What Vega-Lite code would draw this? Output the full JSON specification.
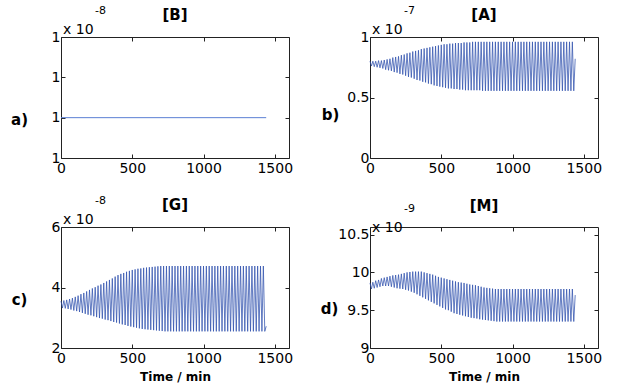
{
  "$schema": "https://vega.github.io/schema/vega-lite/v6.json",
  "padding": {"left": 10, "top": 4, "right": 5, "bottom": 0},
  "background": "white",
  "bounds": "flush",
  "columns": 2,
  "spacing": {"row": 69, "column": 81},
  "datasets": {
    "flat": [{"t": 0, "B": 1}, {"t": 1440, "B": 1}],
    "osc": [
      {"t":0,"A":0.80,"G":3.55,"M":9.86},{"t":10,"A":0.76,"G":3.32,"M":9.78},
      {"t":20,"A":0.80,"G":3.57,"M":9.87},{"t":30,"A":0.755,"G":3.31,"M":9.79},
      {"t":40,"A":0.80,"G":3.59,"M":9.89},{"t":50,"A":0.75,"G":3.29,"M":9.80},
      {"t":60,"A":0.805,"G":3.62,"M":9.90},{"t":70,"A":0.745,"G":3.27,"M":9.81},
      {"t":80,"A":0.805,"G":3.65,"M":9.92},{"t":90,"A":0.74,"G":3.24,"M":9.82},
      {"t":100,"A":0.81,"G":3.69,"M":9.93},{"t":110,"A":0.73,"G":3.22,"M":9.82},
      {"t":120,"A":0.815,"G":3.73,"M":9.94},{"t":130,"A":0.725,"G":3.19,"M":9.82},
      {"t":140,"A":0.82,"G":3.78,"M":9.95},{"t":150,"A":0.72,"G":3.16,"M":9.81},
      {"t":160,"A":0.83,"G":3.82,"M":9.96},{"t":170,"A":0.71,"G":3.13,"M":9.80},
      {"t":180,"A":0.835,"G":3.87,"M":9.965},{"t":190,"A":0.705,"G":3.10,"M":9.79},
      {"t":200,"A":0.84,"G":3.92,"M":9.97},{"t":210,"A":0.695,"G":3.08,"M":9.785},
      {"t":220,"A":0.85,"G":3.97,"M":9.98},{"t":230,"A":0.69,"G":3.05,"M":9.78},
      {"t":240,"A":0.855,"G":4.01,"M":9.99},{"t":250,"A":0.68,"G":3.02,"M":9.77},
      {"t":260,"A":0.865,"G":4.06,"M":10.0},{"t":270,"A":0.67,"G":2.99,"M":9.76},
      {"t":280,"A":0.87,"G":4.10,"M":10.005},{"t":290,"A":0.665,"G":2.97,"M":9.745},
      {"t":300,"A":0.88,"G":4.15,"M":10.01},{"t":310,"A":0.655,"G":2.94,"M":9.73},
      {"t":320,"A":0.885,"G":4.20,"M":10.01},{"t":330,"A":0.645,"G":2.92,"M":9.71},
      {"t":340,"A":0.89,"G":4.25,"M":10.01},{"t":350,"A":0.64,"G":2.89,"M":9.69},
      {"t":360,"A":0.90,"G":4.30,"M":10.01},{"t":370,"A":0.63,"G":2.86,"M":9.67},
      {"t":380,"A":0.905,"G":4.36,"M":10.0},{"t":390,"A":0.625,"G":2.84,"M":9.65},
      {"t":400,"A":0.91,"G":4.41,"M":9.99},{"t":410,"A":0.615,"G":2.81,"M":9.63},
      {"t":420,"A":0.915,"G":4.45,"M":9.98},{"t":430,"A":0.61,"G":2.78,"M":9.61},
      {"t":440,"A":0.92,"G":4.48,"M":9.97},{"t":450,"A":0.60,"G":2.76,"M":9.59},
      {"t":460,"A":0.925,"G":4.52,"M":9.955},{"t":470,"A":0.595,"G":2.73,"M":9.57},
      {"t":480,"A":0.93,"G":4.55,"M":9.94},{"t":490,"A":0.59,"G":2.71,"M":9.55},
      {"t":500,"A":0.935,"G":4.58,"M":9.93},{"t":510,"A":0.585,"G":2.69,"M":9.53},
      {"t":520,"A":0.94,"G":4.60,"M":9.92},{"t":530,"A":0.58,"G":2.67,"M":9.51},
      {"t":540,"A":0.94,"G":4.62,"M":9.91},{"t":550,"A":0.575,"G":2.65,"M":9.50},
      {"t":560,"A":0.945,"G":4.63,"M":9.90},{"t":570,"A":0.575,"G":2.63,"M":9.48},
      {"t":580,"A":0.945,"G":4.65,"M":9.89},{"t":590,"A":0.57,"G":2.62,"M":9.46},
      {"t":600,"A":0.95,"G":4.66,"M":9.88},{"t":610,"A":0.57,"G":2.61,"M":9.45},
      {"t":620,"A":0.95,"G":4.67,"M":9.87},{"t":630,"A":0.565,"G":2.60,"M":9.44},
      {"t":640,"A":0.95,"G":4.68,"M":9.865},{"t":650,"A":0.565,"G":2.59,"M":9.43},
      {"t":660,"A":0.955,"G":4.69,"M":9.86},{"t":670,"A":0.56,"G":2.58,"M":9.42},
      {"t":680,"A":0.955,"G":4.70,"M":9.85},{"t":690,"A":0.56,"G":2.57,"M":9.41},
      {"t":700,"A":0.955,"G":4.71,"M":9.84},{"t":710,"A":0.56,"G":2.56,"M":9.40},
      {"t":720,"A":0.96,"G":4.71,"M":9.835},{"t":730,"A":0.56,"G":2.55,"M":9.395},
      {"t":740,"A":0.96,"G":4.71,"M":9.83},{"t":750,"A":0.56,"G":2.55,"M":9.39},
      {"t":760,"A":0.96,"G":4.71,"M":9.82},{"t":770,"A":0.56,"G":2.55,"M":9.38},
      {"t":780,"A":0.96,"G":4.71,"M":9.81},{"t":790,"A":0.555,"G":2.55,"M":9.375},
      {"t":800,"A":0.96,"G":4.71,"M":9.80},{"t":810,"A":0.555,"G":2.55,"M":9.37},
      {"t":820,"A":0.96,"G":4.71,"M":9.795},{"t":830,"A":0.555,"G":2.55,"M":9.365},
      {"t":840,"A":0.96,"G":4.71,"M":9.79},{"t":850,"A":0.555,"G":2.55,"M":9.36},
      {"t":860,"A":0.96,"G":4.71,"M":9.785},{"t":870,"A":0.555,"G":2.55,"M":9.355},
      {"t":880,"A":0.96,"G":4.71,"M":9.78},{"t":890,"A":0.555,"G":2.55,"M":9.35},
      {"t":900,"A":0.96,"G":4.71,"M":9.78},{"t":910,"A":0.555,"G":2.55,"M":9.35},
      {"t":920,"A":0.96,"G":4.71,"M":9.78},{"t":930,"A":0.555,"G":2.55,"M":9.35},
      {"t":940,"A":0.96,"G":4.71,"M":9.78},{"t":950,"A":0.555,"G":2.55,"M":9.35},
      {"t":960,"A":0.96,"G":4.71,"M":9.78},{"t":970,"A":0.555,"G":2.55,"M":9.35},
      {"t":980,"A":0.96,"G":4.71,"M":9.78},{"t":990,"A":0.555,"G":2.55,"M":9.35},
      {"t":1000,"A":0.96,"G":4.71,"M":9.78},{"t":1010,"A":0.555,"G":2.55,"M":9.35},
      {"t":1020,"A":0.96,"G":4.71,"M":9.78},{"t":1030,"A":0.555,"G":2.55,"M":9.35},
      {"t":1040,"A":0.96,"G":4.71,"M":9.78},{"t":1050,"A":0.555,"G":2.55,"M":9.35},
      {"t":1060,"A":0.96,"G":4.71,"M":9.78},{"t":1070,"A":0.555,"G":2.55,"M":9.35},
      {"t":1080,"A":0.96,"G":4.71,"M":9.78},{"t":1090,"A":0.555,"G":2.55,"M":9.35},
      {"t":1100,"A":0.96,"G":4.71,"M":9.78},{"t":1110,"A":0.555,"G":2.55,"M":9.35},
      {"t":1120,"A":0.96,"G":4.71,"M":9.78},{"t":1130,"A":0.555,"G":2.55,"M":9.35},
      {"t":1140,"A":0.96,"G":4.71,"M":9.78},{"t":1150,"A":0.555,"G":2.55,"M":9.35},
      {"t":1160,"A":0.96,"G":4.71,"M":9.78},{"t":1170,"A":0.555,"G":2.55,"M":9.35},
      {"t":1180,"A":0.96,"G":4.71,"M":9.78},{"t":1190,"A":0.555,"G":2.55,"M":9.35},
      {"t":1200,"A":0.96,"G":4.71,"M":9.78},{"t":1210,"A":0.555,"G":2.55,"M":9.35},
      {"t":1220,"A":0.96,"G":4.71,"M":9.78},{"t":1230,"A":0.555,"G":2.55,"M":9.35},
      {"t":1240,"A":0.96,"G":4.71,"M":9.78},{"t":1250,"A":0.555,"G":2.55,"M":9.35},
      {"t":1260,"A":0.96,"G":4.71,"M":9.78},{"t":1270,"A":0.555,"G":2.55,"M":9.35},
      {"t":1280,"A":0.96,"G":4.71,"M":9.78},{"t":1290,"A":0.555,"G":2.55,"M":9.35},
      {"t":1300,"A":0.96,"G":4.71,"M":9.78},{"t":1310,"A":0.555,"G":2.55,"M":9.35},
      {"t":1320,"A":0.96,"G":4.71,"M":9.78},{"t":1330,"A":0.555,"G":2.55,"M":9.35},
      {"t":1340,"A":0.96,"G":4.71,"M":9.78},{"t":1350,"A":0.555,"G":2.55,"M":9.35},
      {"t":1360,"A":0.96,"G":4.71,"M":9.78},{"t":1370,"A":0.555,"G":2.55,"M":9.35},
      {"t":1380,"A":0.96,"G":4.71,"M":9.78},{"t":1390,"A":0.555,"G":2.55,"M":9.35},
      {"t":1400,"A":0.96,"G":4.71,"M":9.78},{"t":1410,"A":0.555,"G":2.55,"M":9.35},
      {"t":1420,"A":0.96,"G":4.71,"M":9.78},{"t":1430,"A":0.555,"G":2.55,"M":9.35},
      {"t":1440,"A":0.82,"G":2.72,"M":9.70}
    ]
  },
  "concat": [
    {
      "width": 228, "height": 121,
      "title": "[B]",
      "resolve": {"axis": {"x": "independent", "y": "independent"}},
      "layer": [
        {
          "data": {"name": "flat"},
          "mark": {"type": "line", "color": "#5b7fd4", "strokeWidth": 1},
          "encoding": {
            "x": {"field": "t", "type": "quantitative", "scale": {"domain": [0, 1500]},
                  "axis": {"values": [0, 500, 1000, 1500], "format": ".0f", "title": null}},
            "y": {"field": "B", "type": "quantitative", "scale": {"domain": [0.9998, 1.0004]},
                  "axis": {"values": [0.9998, 1, 1.0002, 1.0004], "format": ".0f",
                           "title": "a)", "titleX": -42, "titleY": 82}}
          }
        },
        {
          "data": {"name": "flat"},
          "mark": {"type": "line", "opacity": 0},
          "encoding": {
            "x": {"field": "t", "type": "quantitative",
                  "axis": {"orient": "top", "values": [0, 500, 1000, 1500], "labels": false, "title": null}},
            "y": {"field": "B", "type": "quantitative",
                  "axis": {"orient": "right", "values": [0.9998, 1, 1.0002, 1.0004], "labels": false, "title": null}}
          }
        },
        {
          "data": {"values": [{"s": "x 10"}]},
          "mark": {"type": "text", "align": "left", "baseline": "alphabetic", "dx": 2, "dy": -3, "fontSize": 14},
          "encoding": {
            "x": {"datum": 0, "type": "quantitative", "axis": null},
            "y": {"datum": 1.0004, "type": "quantitative", "axis": null},
            "text": {"field": "s"}
          }
        },
        {
          "data": {"values": [{"s": "-8"}]},
          "mark": {"type": "text", "align": "left", "baseline": "alphabetic", "dx": 34, "dy": -23, "fontSize": 11},
          "encoding": {
            "x": {"datum": 0, "type": "quantitative", "axis": null},
            "y": {"datum": 1.0004, "type": "quantitative", "axis": null},
            "text": {"field": "s"}
          }
        }
      ]
    },
    {
      "width": 228, "height": 121,
      "title": "[A]",
      "resolve": {"axis": {"x": "independent", "y": "independent"}},
      "layer": [
        {
          "data": {"name": "osc"},
          "mark": {"type": "line", "color": "#3051ad", "strokeWidth": 0.75},
          "encoding": {
            "x": {"field": "t", "type": "quantitative", "scale": {"domain": [0, 1500]},
                  "axis": {"values": [0, 500, 1000, 1500], "format": ".0f", "title": null}},
            "y": {"field": "A", "type": "quantitative", "scale": {"domain": [0, 1]},
                  "axis": {"values": [0, 0.5, 1], "format": "~g",
                           "title": "b)", "titleX": -40, "titleY": 77}}
          }
        },
        {
          "data": {"name": "osc"},
          "mark": {"type": "line", "opacity": 0},
          "encoding": {
            "x": {"field": "t", "type": "quantitative",
                  "axis": {"orient": "top", "values": [0, 500, 1000, 1500], "labels": false, "title": null}},
            "y": {"field": "A", "type": "quantitative",
                  "axis": {"orient": "right", "values": [0, 0.5, 1], "labels": false, "title": null}}
          }
        },
        {
          "data": {"values": [{"s": "x 10"}]},
          "mark": {"type": "text", "align": "left", "baseline": "alphabetic", "dx": 2, "dy": -3, "fontSize": 14},
          "encoding": {
            "x": {"datum": 0, "type": "quantitative", "axis": null},
            "y": {"datum": 1, "type": "quantitative", "axis": null},
            "text": {"field": "s"}
          }
        },
        {
          "data": {"values": [{"s": "-7"}]},
          "mark": {"type": "text", "align": "left", "baseline": "alphabetic", "dx": 34, "dy": -23, "fontSize": 11},
          "encoding": {
            "x": {"datum": 0, "type": "quantitative", "axis": null},
            "y": {"datum": 1, "type": "quantitative", "axis": null},
            "text": {"field": "s"}
          }
        }
      ]
    },
    {
      "width": 228, "height": 121,
      "title": "[G]",
      "resolve": {"axis": {"x": "independent", "y": "independent"}},
      "layer": [
        {
          "data": {"name": "osc"},
          "mark": {"type": "line", "color": "#3051ad", "strokeWidth": 0.75},
          "encoding": {
            "x": {"field": "t", "type": "quantitative", "scale": {"domain": [0, 1500]},
                  "axis": {"values": [0, 500, 1000, 1500], "format": ".0f", "title": "Time / min"}},
            "y": {"field": "G", "type": "quantitative", "scale": {"domain": [2, 6]},
                  "axis": {"values": [2, 4, 6], "format": "~g",
                           "title": "c)", "titleX": -42, "titleY": 72}}
          }
        },
        {
          "data": {"name": "osc"},
          "mark": {"type": "line", "opacity": 0},
          "encoding": {
            "x": {"field": "t", "type": "quantitative",
                  "axis": {"orient": "top", "values": [0, 500, 1000, 1500], "labels": false, "title": null}},
            "y": {"field": "G", "type": "quantitative",
                  "axis": {"orient": "right", "values": [2, 4, 6], "labels": false, "title": null}}
          }
        },
        {
          "data": {"values": [{"s": "x 10"}]},
          "mark": {"type": "text", "align": "left", "baseline": "alphabetic", "dx": 2, "dy": -3, "fontSize": 14},
          "encoding": {
            "x": {"datum": 0, "type": "quantitative", "axis": null},
            "y": {"datum": 6, "type": "quantitative", "axis": null},
            "text": {"field": "s"}
          }
        },
        {
          "data": {"values": [{"s": "-8"}]},
          "mark": {"type": "text", "align": "left", "baseline": "alphabetic", "dx": 34, "dy": -23, "fontSize": 11},
          "encoding": {
            "x": {"datum": 0, "type": "quantitative", "axis": null},
            "y": {"datum": 6, "type": "quantitative", "axis": null},
            "text": {"field": "s"}
          }
        }
      ]
    },
    {
      "width": 228, "height": 121,
      "title": {"text": "[M]", "dy": -7},
      "resolve": {"axis": {"x": "independent", "y": "independent"}},
      "layer": [
        {
          "data": {"name": "osc"},
          "mark": {"type": "line", "color": "#3051ad", "strokeWidth": 0.75},
          "encoding": {
            "x": {"field": "t", "type": "quantitative", "scale": {"domain": [0, 1500]},
                  "axis": {"values": [0, 500, 1000, 1500], "format": ".0f", "title": "Time / min"}},
            "y": {"field": "M", "type": "quantitative", "scale": {"domain": [9, 10.5]},
                  "axis": {"values": [9, 9.5, 10, 10.5], "format": "~g",
                           "title": "d)", "titleX": -41, "titleY": 81}}
          }
        },
        {
          "data": {"name": "osc"},
          "mark": {"type": "line", "opacity": 0},
          "encoding": {
            "x": {"field": "t", "type": "quantitative",
                  "axis": {"orient": "top", "values": [0, 500, 1000, 1500], "labels": false, "title": null}},
            "y": {"field": "M", "type": "quantitative",
                  "axis": {"orient": "right", "values": [9, 9.5, 10, 10.5], "labels": false, "title": null}}
          }
        },
        {
          "data": {"values": [{"s": "x 10"}]},
          "mark": {"type": "text", "align": "left", "baseline": "alphabetic", "dx": 2, "dy": -3, "fontSize": 14},
          "encoding": {
            "x": {"datum": 0, "type": "quantitative", "axis": null},
            "y": {"datum": 10.5, "type": "quantitative", "axis": null},
            "text": {"field": "s"}
          }
        },
        {
          "data": {"values": [{"s": "-9"}]},
          "mark": {"type": "text", "align": "left", "baseline": "alphabetic", "dx": 34, "dy": -23, "fontSize": 11},
          "encoding": {
            "x": {"datum": 0, "type": "quantitative", "axis": null},
            "y": {"datum": 10.5, "type": "quantitative", "axis": null},
            "text": {"field": "s"}
          }
        }
      ]
    }
  ],
  "config": {
    "font": "DejaVu Sans",
    "view": {"stroke": "#222222", "strokeWidth": 1},
    "text": {"font": "DejaVu Sans", "color": "#000000"},
    "axis": {
      "grid": false,
      "domain": false,
      "ticks": true,
      "tickColor": "#222222",
      "tickSize": -4,
      "labelFont": "DejaVu Sans",
      "labelFontSize": 14,
      "labelColor": "#000000",
      "labelPadding": 7,
      "labelFlush": false,
      "labelOverlap": false,
      "titleFont": "DejaVu Sans",
      "titleColor": "#000000",
      "titleFontWeight": "bold",
      "titleFontSize": 15
    },
    "axisY": {"titleAngle": 0, "titleAlign": "center", "titleBaseline": "middle", "labelPadding": 5},
    "axisX": {"titleFontSize": 12, "titleBaseline": "middle", "titleY": 28},
    "title": {"font": "DejaVu Sans", "fontSize": 15, "fontWeight": "bold", "color": "#000000",
              "baseline": "alphabetic", "offset": -18}
  }
}
